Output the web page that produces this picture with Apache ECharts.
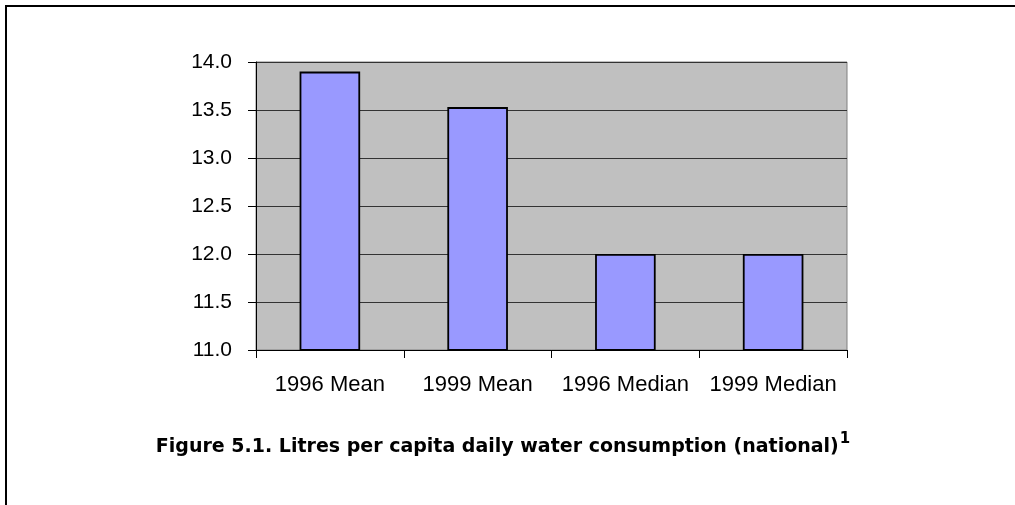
<!DOCTYPE html>
<html>
<head>
<meta charset="utf-8">
<script src="https://cdn.jsdelivr.net/npm/echarts@6/dist/echarts.min.js"></script>
<style>
  html, body { margin: 0; padding: 0; background: #fff; }
  #chart { position: absolute; left: 0; top: 0; width: 1015px; height: 505px; }
  #frame { position: absolute; left: 5px; top: 5px; width: 1010px; height: 500px;
           border-top: 2px solid #000; border-left: 2px solid #000; box-sizing: border-box; pointer-events: none; }
</style>
</head>
<body>
<div id="chart"></div>
<div id="frame"></div>
<script>
const categories = ['1996 Mean', '1999 Mean', '1996 Median', '1999 Median'];
const values = [13.9, 13.53, 12.0, 12.0];
const yMin = 11.0;
const yMax = 14.0;
const yStep = 0.5;
const titleText = 'Figure 5.1. Litres per capita daily water consumption (national)';
const footnote = '1';

const chart = echarts.init(document.getElementById('chart'), null, { renderer: 'canvas' });
chart.setOption({
  animation: false,
  backgroundColor: '#ffffff',
  title: {
    text: '{t|' + titleText + '}{s|' + footnote + '}',
    left: 498,
    textAlign: 'center',
    top: 427,
    textStyle: {
      rich: {
        t: { fontFamily: 'DejaVu Sans', fontWeight: 'bold', fontSize: 19, color: '#000' },
        s: { fontFamily: 'DejaVu Sans', fontWeight: 'bold', fontSize: 15, color: '#000', padding: [0, 0, 16, 1] }
      }
    }
  },
  grid: {
    left: 256, top: 62, width: 591, height: 288,
    show: true, backgroundColor: '#C0C0C0', borderColor: '#808080', borderWidth: 1
  },
  xAxis: {
    type: 'category',
    data: categories,
    axisLine: { show: true, lineStyle: { color: '#000', width: 1 } },
    axisTick: { show: true, length: 8, interval: 0, alignWithLabel: false, lineStyle: { color: '#000' } },
    axisLabel: { fontFamily: 'Liberation Sans', fontSize: 22, color: '#000', margin: 24, interval: 0 },
    splitLine: { show: false }
  },
  yAxis: {
    type: 'value',
    min: yMin, max: yMax, interval: yStep,
    axisLine: { show: true, lineStyle: { color: '#000', width: 1 } },
    axisTick: { show: true, length: 8, lineStyle: { color: '#000' } },
    axisLabel: { fontFamily: 'Liberation Sans', fontSize: 21, color: '#000', margin: 24,
                 formatter: v => v.toFixed(1) },
    splitLine: { show: true, lineStyle: { color: '#333', width: 1.2 } }
  },
  series: [{
    type: 'bar',
    data: values,
    barCategoryGap: '59%',
    itemStyle: { color: '#9999FF', borderColor: '#000', borderWidth: 1.8 }
  }]
});
</script>
</body>
</html>
